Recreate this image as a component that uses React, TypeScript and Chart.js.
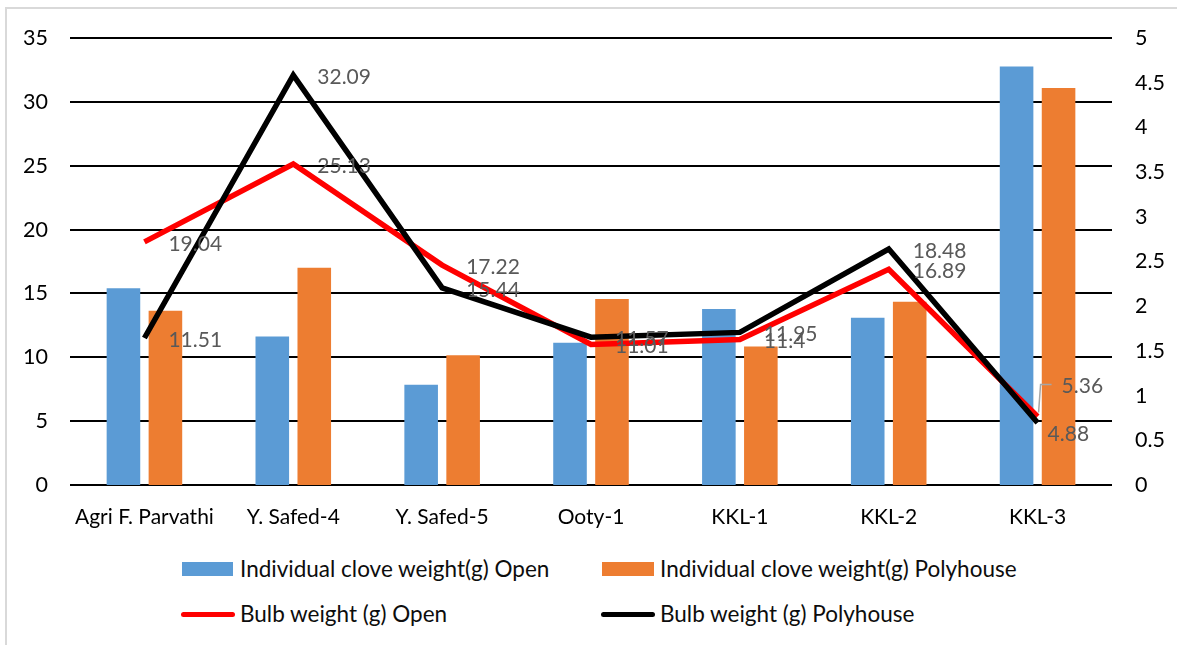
import React, { useEffect, useRef } from "react";
import { Chart, registerables } from "chart.js";

Chart.register(...registerables);

const categories = ["Agri F. Parvathi", "Y. Safed-4", "Y. Safed-5", "Ooty-1", "KKL-1", "KKL-2", "KKL-3"];
const cloveOpen = [2.2, 1.66, 1.12, 1.59, 1.97, 1.87, 4.68];
const clovePoly = [1.95, 2.43, 1.45, 2.08, 1.55, 2.05, 4.44];
const bulbOpen = [19.04, 25.13, 17.22, 11.01, 11.4, 16.89, 5.36];
const bulbPoly = [11.51, 32.09, 15.44, 11.57, 11.95, 18.48, 4.88];
const seriesNames = [
  "Individual clove weight(g) Open",
  "Individual clove weight(g) Polyhouse",
  "Bulb weight (g) Open",
  "Bulb weight (g) Polyhouse",
];

const FONT = "Lato, 'Open Sans', sans-serif";
const BLUE = "#5B9BD5";
const ORANGE = "#ED7D31";
const RED = "#FF0000";
const BLACK = "#000000";

const W = 1177;
const CH = 545;

const labelPlugin = {
  id: "pointValueLabels",
  afterDatasetsDraw(chart: any) {
    const ctx = chart.ctx;
    const special: Record<string, { dx: number; dy: number; leader?: boolean }> = {
      "2-6": { dx: 24, dy: -30, leader: true },
      "3-6": { dx: 10, dy: 12 },
    };
    ctx.save();
    ctx.font = `21px ${FONT}`;
    ctx.fillStyle = "#595959";
    ctx.textAlign = "left";
    ctx.textBaseline = "middle";
    [2, 3].forEach((di) => {
      const meta = chart.getDatasetMeta(di);
      const ds = chart.data.datasets[di];
      meta.data.forEach((pt: any, i: number) => {
        const v = ds.data[i];
        const sp = special[`${di}-${i}`];
        let dx = 24;
        let dy = 2;
        if (sp) {
          dx = sp.dx;
          dy = sp.dy;
          if (sp.leader) {
            ctx.save();
            ctx.strokeStyle = "#A6A6A6";
            ctx.lineWidth = 1.5;
            ctx.beginPath();
            ctx.moveTo(pt.x + 1, pt.y - 4);
            ctx.lineTo(pt.x + 3, pt.y - 32);
            ctx.lineTo(pt.x + 14, pt.y - 32);
            ctx.stroke();
            ctx.restore();
          }
        }
        ctx.fillText(String(v), pt.x + dx, pt.y + dy);
      });
    });
    ctx.restore();
  },
};

export default function App() {
  const ref = useRef<HTMLCanvasElement | null>(null);

  useEffect(() => {
    document.body.style.margin = "0";
    if (!ref.current) return;
    const chart = new Chart(ref.current, {
      type: "bar",
      data: {
        labels: categories,
        datasets: [
          {
            type: "bar",
            label: seriesNames[0],
            data: cloveOpen,
            backgroundColor: BLUE,
            yAxisID: "y1",
            order: 3,
            categoryPercentage: 0.564,
            barPercentage: 0.8,
          },
          {
            type: "bar",
            label: seriesNames[1],
            data: clovePoly,
            backgroundColor: ORANGE,
            yAxisID: "y1",
            order: 3,
            categoryPercentage: 0.564,
            barPercentage: 0.8,
          },
          {
            type: "line",
            label: seriesNames[2],
            data: bulbOpen,
            borderColor: RED,
            backgroundColor: RED,
            borderWidth: 5.5,
            pointRadius: 0,
            tension: 0,
            yAxisID: "y",
            order: 2,
          },
          {
            type: "line",
            label: seriesNames[3],
            data: bulbPoly,
            borderColor: BLACK,
            backgroundColor: BLACK,
            borderWidth: 5.5,
            pointRadius: 0,
            tension: 0,
            yAxisID: "y",
            order: 1,
          },
        ] as any,
      },
      options: {
        responsive: false,
        animation: false,
        layout: { padding: { left: 0, right: 0, top: 38, bottom: 0 } },
        plugins: {
          legend: { display: false },
          tooltip: { enabled: false },
        },
        scales: {
          x: {
            grid: { display: false, drawTicks: false },
            border: { display: false },
            ticks: {
              color: "#000",
              font: { family: FONT, size: 21 },
              padding: 20,
              maxRotation: 0,
              autoSkip: false,
            },
            afterFit: (s: any) => {
              s.height = 60;
            },
          },
          y: {
            position: "left",
            min: 0,
            max: 35,
            ticks: {
              stepSize: 5,
              color: "#000",
              font: { family: FONT, size: 21.5 },
              padding: 22,
              callback: (v: any) => String(v),
            },
            grid: { color: "#000", lineWidth: 2, drawTicks: false },
            border: { display: false },
            afterFit: (s: any) => {
              s.width = 70;
            },
          },
          y1: {
            position: "right",
            min: 0,
            max: 5,
            ticks: {
              stepSize: 0.5,
              color: "#000",
              font: { family: FONT, size: 21.5 },
              padding: 23,
              callback: (v: any) => String(v),
            },
            grid: { display: false, drawTicks: false },
            border: { display: false },
            afterFit: (s: any) => {
              s.width = W - 1112;
            },
          },
        },
      } as any,
      plugins: [labelPlugin],
    });
    return () => chart.destroy();
  }, []);

  const textStyle: React.CSSProperties = {
    position: "absolute",
    fontFamily: FONT,
    fontSize: 22.5,
    color: "#0D0D0D",
    lineHeight: "26px",
    whiteSpace: "nowrap",
  };

  return (
    <div style={{ position: "fixed", left: 0, top: 0, width: W, height: 645, overflow: "hidden", background: "#fff" }}>
      <div
        style={{
          position: "absolute",
          left: 5,
          top: 7,
          width: W + 20,
          height: 700,
          border: "2px solid #D9D9D9",
          boxSizing: "border-box",
        }}
      />
      <canvas ref={ref} width={W} height={CH} style={{ position: "absolute", left: 0, top: 0, width: W, height: CH }} />
      <div style={{ position: "absolute", left: 182, top: 562, width: 51, height: 14, background: BLUE }} />
      <div style={{ ...textStyle, left: 240, top: 556 }}>{seriesNames[0]}</div>
      <div style={{ position: "absolute", left: 602, top: 562, width: 52, height: 14, background: ORANGE }} />
      <div style={{ ...textStyle, left: 660, top: 556 }}>{seriesNames[1]}</div>
      <div style={{ position: "absolute", left: 181, top: 612, width: 54, height: 5, borderRadius: 3, background: RED }} />
      <div style={{ ...textStyle, left: 240, top: 601 }}>{seriesNames[2]}</div>
      <div style={{ position: "absolute", left: 601, top: 612, width: 54, height: 5, borderRadius: 3, background: BLACK }} />
      <div style={{ ...textStyle, left: 660, top: 601 }}>{seriesNames[3]}</div>
    </div>
  );
}
